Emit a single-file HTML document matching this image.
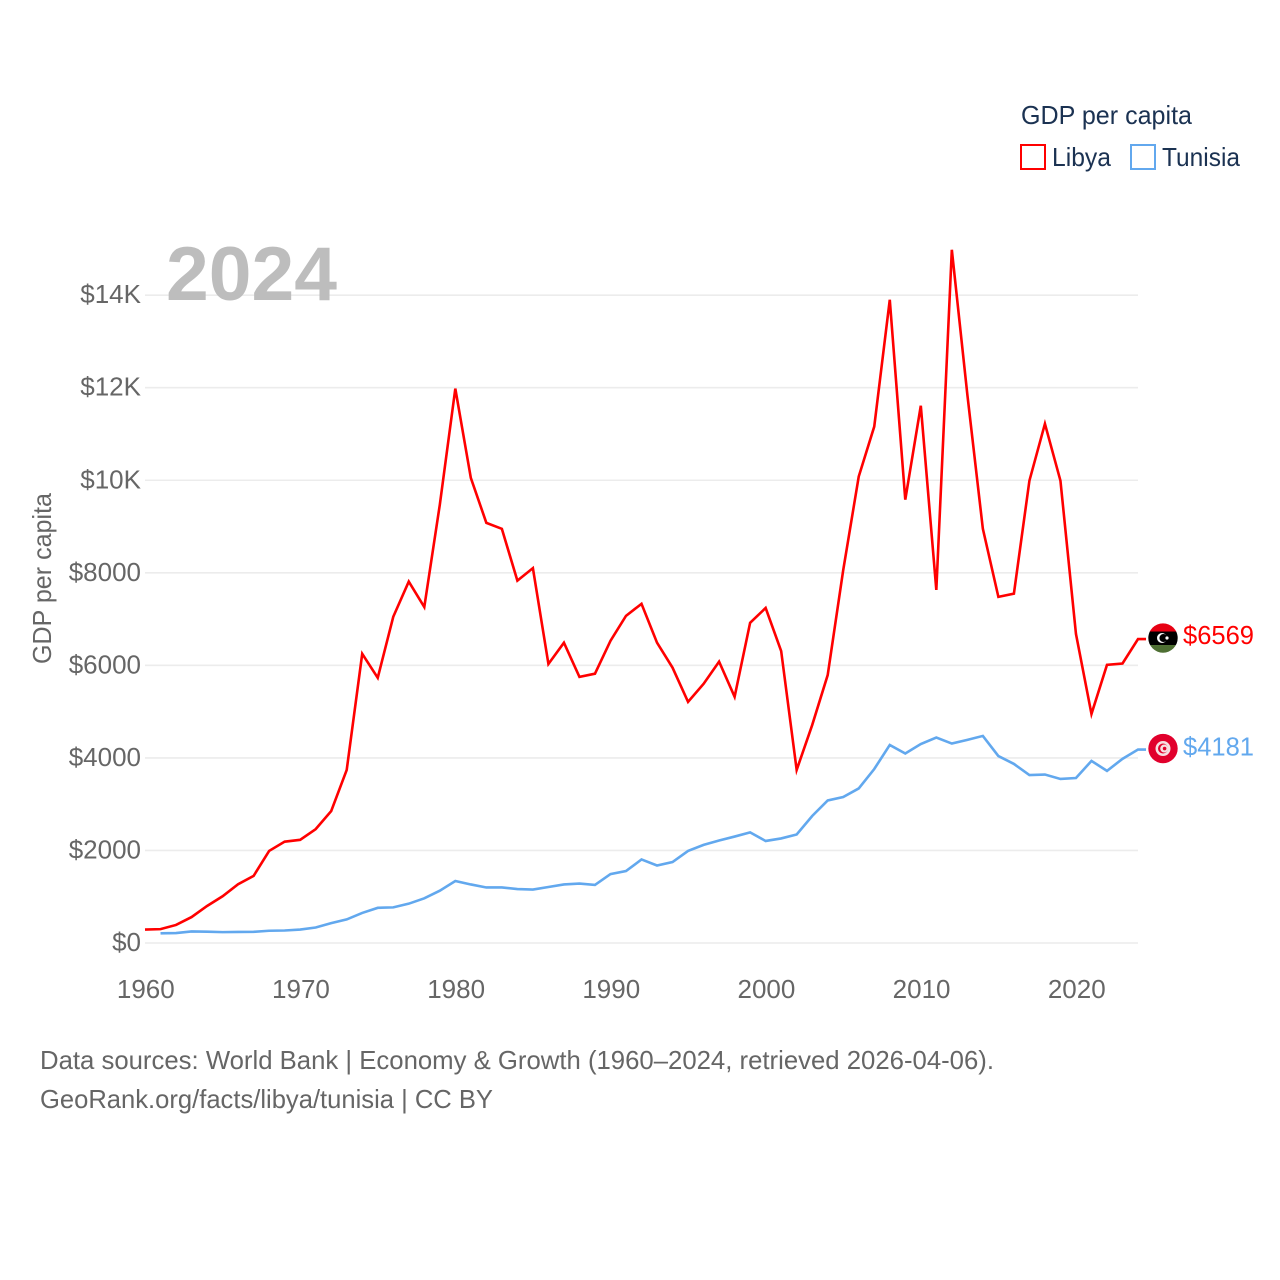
<!DOCTYPE html>
<html lang="en">
<head>
<meta charset="utf-8">
<title>GDP per capita: Libya and Tunisia</title>
<style>
  html, body { margin: 0; padding: 0; background: #fff; }
  svg { display: block; font-family: "Liberation Sans", sans-serif; }
  .muted { fill: #666; font-size: 26px; }
  .navy { fill: #1b3252; font-size: 26px; }
</style>
</head>
<body>
<svg id="chart" xmlns="http://www.w3.org/2000/svg" width="1280" height="1280" viewBox="0 0 1280 1280">
  <rect width="1280" height="1280" fill="#fff"/>
  <defs>
    <clipPath id="flag-clip-libya"><circle id="clip-libya" r="14.7"/></clipPath>
    <clipPath id="flag-clip-tunisia"><circle id="clip-tunisia" r="14.7"/></clipPath>
  </defs>

  <g id="grid"></g>
  <g id="yticks"></g>
  <g id="xticks"></g>

  <text x="166" y="300" font-size="76" font-weight="700" fill="#bdbdbd" textLength="171" lengthAdjust="spacingAndGlyphs">2024</text>

  <text class="muted" transform="translate(51,664) rotate(-90)" textLength="171" lengthAdjust="spacingAndGlyphs">GDP per capita</text>

  <g id="series"></g>
  <g id="ends"></g>

  <g>
    <text class="navy" x="1021" y="124" textLength="171" lengthAdjust="spacingAndGlyphs">GDP per capita</text>
    <g>
      <rect x="1021" y="145" width="24" height="24" fill="none" stroke="#ff0000" stroke-width="2"/>
      <text class="navy" x="1052" y="166" textLength="59" lengthAdjust="spacingAndGlyphs">Libya</text>
    </g>
    <g>
      <rect x="1131" y="145" width="24" height="24" fill="none" stroke="#62a8ee" stroke-width="2"/>
      <text class="navy" x="1162" y="166" textLength="78" lengthAdjust="spacingAndGlyphs">Tunisia</text>
    </g>
  </g>

  <text class="muted" x="40" y="1069" textLength="954" lengthAdjust="spacingAndGlyphs">Data sources: World Bank | Economy &amp; Growth (1960–2024, retrieved 2026-04-06).</text>
  <text class="muted" x="40" y="1108" textLength="453" lengthAdjust="spacingAndGlyphs">GeoRank.org/facts/libya/tunisia | CC BY</text>
</svg>

<script>
const yTickValues = [0, 2000, 4000, 6000, 8000, 10000, 12000, 14000];
const yTickLabels = ["$0", "$2000", "$4000", "$6000", "$8000", "$10K", "$12K", "$14K"];
const xTickYears = [1960, 1970, 1980, 1990, 2000, 2010, 2020];
const xTickLabels = ["1960", "1970", "1980", "1990", "2000", "2010", "2020"];

const libyaStartYear = 1960;
const libyaValues = [
  290, 300, 390, 560, 800, 1010, 1270, 1450, 1990, 2190,
  2230, 2460, 2850, 3740, 6250, 5730, 7050, 7810, 7260, 9470,
  11980, 10050, 9080, 8950, 7830, 8100, 6030, 6490, 5750, 5820,
  6530, 7070, 7330, 6490, 5950, 5210, 5600, 6080, 5320, 6920,
  7240, 6310, 3740, 4710, 5790, 8060, 10080, 11160, 13900, 9580,
  11610, 7630, 14980, 11850, 8950, 7480, 7550, 9990, 11220, 9990,
  6680, 4950, 6010, 6040, 6569
];

const tunisiaStartYear = 1961;
const tunisiaValues = [
  210, 215, 250, 245, 235, 240, 242, 265, 270,
  290, 335, 430, 510, 650, 760, 770, 850, 965, 1130,
  1340, 1265, 1200, 1200, 1165, 1155, 1210, 1265, 1285, 1255,
  1490, 1555, 1805, 1675, 1750, 1990, 2120, 2215, 2300, 2390,
  2205, 2260, 2345, 2745, 3080, 3155, 3340, 3760, 4280, 4095,
  4300, 4440, 4310, 4390, 4475, 4040, 3870, 3630, 3640, 3545,
  3565, 3935, 3720, 3980, 4181
];

const SVG_NS = "http://www.w3.org/2000/svg";
const RED = "#ff0000";
const BLUE = "#62a8ee";

function xScale(year) { return 145 + (year - 1960) * 15.516; }
function yScale(value) { return 943 - value * 0.046275; }

function make(tag, attrs, parent) {
  const node = document.createElementNS(SVG_NS, tag);
  for (const key in attrs) node.setAttribute(key, attrs[key]);
  parent.appendChild(node);
  return node;
}

const gridGroup = document.getElementById("grid");
const yTickGroup = document.getElementById("yticks");
const xTickGroup = document.getElementById("xticks");
const seriesGroup = document.getElementById("series");
const endsGroup = document.getElementById("ends");

yTickValues.forEach(function (value, i) {
  const gridLine = make("line", { x1: 145, x2: 1138, y1: yScale(value), y2: yScale(value), stroke: "#ececec", "stroke-width": 1.6 }, gridGroup);
  
  
  const label = make("text", { x: 141, y: yScale(value) + 8, "text-anchor": "end", class: "muted" }, yTickGroup);
  label.textContent = yTickLabels[i];
  
  
});

xTickYears.forEach(function (year, i) {
  const label = make("text", { x: xScale(year) + 0.8, y: 998, "text-anchor": "middle", class: "muted" }, xTickGroup);
  label.textContent = xTickLabels[i];
  
  
});

function linePath(values, startYear) {
  const parts = values.map(function (value, i) {
    return (i ? "L" : "M") + xScale(startYear + i).toFixed(2) + " " + yScale(value).toFixed(2);
  });
  const last = values[values.length - 1];
  parts.push("L" + (xScale(startYear + values.length - 1) + 8).toFixed(2) + " " + yScale(last).toFixed(2));
  return parts.join(" ");
}

const libyaLine = make("path", { d: linePath(libyaValues, libyaStartYear), fill: "none", stroke: RED, "stroke-width": 2.6, "stroke-linejoin": "miter", "stroke-miterlimit": 6 }, seriesGroup);



const tunisiaLine = make("path", { d: linePath(tunisiaValues, tunisiaStartYear), fill: "none", stroke: BLUE, "stroke-width": 2.6, "stroke-linejoin": "miter" }, seriesGroup);



const flagX = 1163;
const labelX = 1183;
const libyaLast = libyaValues[libyaValues.length - 1];
const tunisiaLast = tunisiaValues[tunisiaValues.length - 1];
const libyaY = yScale(libyaLast) - 1;
const tunisiaY = yScale(tunisiaLast) - 1;

document.getElementById("clip-libya").setAttribute("cx", flagX);
document.getElementById("clip-libya").setAttribute("cy", libyaY);
document.getElementById("clip-tunisia").setAttribute("cx", flagX);
document.getElementById("clip-tunisia").setAttribute("cy", tunisiaY);

/* Libya flag */
const libyaFlag = make("g", { "clip-path": "url(#flag-clip-libya)" }, endsGroup);


make("rect", { x: flagX - 15, y: libyaY - 16, width: 30, height: 10, fill: "#e70013" }, libyaFlag);
make("rect", { x: flagX - 15, y: libyaY - 6.5, width: 30, height: 13.5, fill: "#000" }, libyaFlag);
make("rect", { x: flagX - 15, y: libyaY + 7, width: 30, height: 9, fill: "#4e6f33" }, libyaFlag);
make("circle", { cx: flagX - 1, cy: libyaY, r: 5, fill: "#fff" }, libyaFlag);
make("circle", { cx: flagX + 0.4, cy: libyaY, r: 4, fill: "#000" }, libyaFlag);
make("circle", { cx: flagX + 4, cy: libyaY, r: 1.6, fill: "#fff" }, libyaFlag);

/* Tunisia flag */
const tunisiaFlag = make("g", { "clip-path": "url(#flag-clip-tunisia)" }, endsGroup);


make("rect", { x: flagX - 15, y: tunisiaY - 15, width: 30, height: 30, fill: "#e1002c" }, tunisiaFlag);
make("circle", { cx: flagX, cy: tunisiaY, r: 7.5, fill: "#f6dfe2" }, tunisiaFlag);
make("circle", { cx: flagX, cy: tunisiaY, r: 5, fill: "#e1002c" }, tunisiaFlag);
make("circle", { cx: flagX + 1.2, cy: tunisiaY, r: 4, fill: "#f6dfe2" }, tunisiaFlag);
make("circle", { cx: flagX + 1.6, cy: tunisiaY, r: 1.8, fill: "#e1002c" }, tunisiaFlag);

const libyaLabel = make("text", { x: labelX, y: libyaY + 6, fill: RED, "font-size": 26, textLength: 71, lengthAdjust: "spacingAndGlyphs" }, endsGroup);
libyaLabel.textContent = "$" + libyaLast;



const tunisiaLabel = make("text", { x: labelX, y: tunisiaY + 7, fill: BLUE, "font-size": 26, textLength: 71, lengthAdjust: "spacingAndGlyphs" }, endsGroup);
tunisiaLabel.textContent = "$" + tunisiaLast;


</script>
</body>
</html>
